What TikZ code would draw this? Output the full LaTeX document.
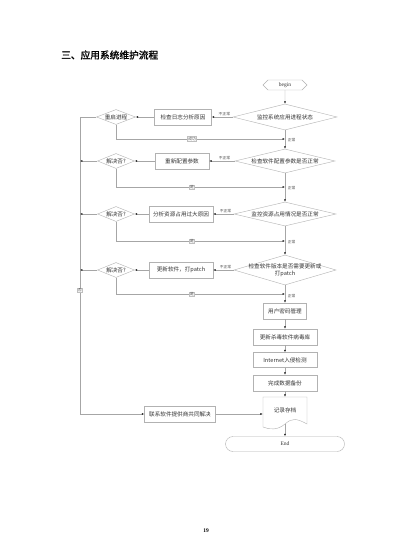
\documentclass[tikz,border=0pt]{standalone}
\usepackage{fontspec}
\setmainfont{Liberation Serif}
\newfontfamily\cjk{Noto Sans CJK SC}
\newfontfamily\cjkb[FakeBold=1.6]{Noto Sans CJK SC}
\usetikzlibrary{arrows.meta,shapes.geometric,shapes.symbols,shapes.misc}
\begin{document}
\begin{tikzpicture}[x=1pt,y=-1pt,
  line/.style={draw=gray!70, line width=0.45pt},
  arr/.style={line, -{Latex[length=2.4pt,width=2pt,color=black!85]}},
  txt/.style={font=\cjk\fontsize{5.6}{6.6}\selectfont, text=black!80},
  box/.style={txt, draw=gray!60, fill=white, inner sep=0.5pt, minimum height=16pt},
  dia/.style={diamond, draw=gray!60, fill=white, inner sep=0pt, aspect=4},
  lbl/.style={font=\cjk\fontsize{3.8}{4.2}\selectfont, text=black!70, inner sep=0.6pt},
  blbl/.style={lbl, draw=gray!50, fill=white}
]
\useasboundingbox (0,0) rectangle (413,540);
\fill[white] (0,0) rectangle (413,540);

% title and page number
\node[anchor=west, font=\cjkb\fontsize{9.7}{11}\selectfont, inner sep=0pt] (title) at (61,55) {三、应用系统维护流程};
\node[font=\bfseries\fontsize{5.5}{6}\selectfont, inner sep=0pt] (pgnum) at (206,531) {19};

% main column
\node[signal, signal to=west and east, draw=gray!60, fill=white, minimum width=44pt, minimum height=10pt, inner sep=0pt, font=\fontsize{5.5}{6}\selectfont, text=black!80] (begin) at (285,85) {begin};

\node[dia, minimum width=104pt, minimum height=26pt, label={[txt]center:监控系统应用进程状态}] (d1) at (285,117) {};
\node[dia, minimum width=100pt, minimum height=24pt, label={[txt]center:检查软件配置参数是否正常}] (d2) at (285,161) {};
\node[dia, minimum width=102pt, minimum height=24pt, label={[txt]center:监控资源占用情况是否正常}] (d3) at (285,214) {};
\node[dia, minimum width=102pt, minimum height=30pt, label={[txt, align=center]center:检查软件版本是否需要更新或\\打patch}] (d4) at (285,270) {};

\node[box, minimum width=57pt] (b1) at (183,117) {检查日志分析原因};
\node[box, minimum width=54pt] (b2) at (182,161) {重新配置参数};
\node[box, minimum width=64pt] (b3) at (181,214) {分析资源占用过大原因};
\node[box, minimum width=64pt] (b4) at (181,270) {更新软件，打patch};

\node[dia, minimum width=39pt, minimum height=15pt, label={[txt]center:重启进程}] (r1) at (116,117) {};
\node[dia, minimum width=37pt, minimum height=15pt, label={[txt]center:解决否?}] (r2) at (116,161) {};
\node[dia, minimum width=37pt, minimum height=15pt, label={[txt]center:解决否?}] (r3) at (116,214) {};
\node[dia, minimum width=37pt, minimum height=15pt, label={[txt]center:解决否?}] (r4) at (116,270) {};

\node[box, minimum width=43pt] (u1) at (285,311) {用户密码管理};
\node[box, minimum width=64pt] (u2) at (285,337) {更新杀毒软件病毒库};
\node[box, minimum width=64pt, minimum height=15pt] (u3) at (285,360) {Internet入侵检测};
\node[box, minimum width=64pt] (u4) at (285,383) {完成数据备份};

\node[txt, minimum width=44pt, minimum height=26pt, inner sep=0pt] (doc) at (285,410) {记录存档};
\draw[draw=gray!60, fill=white] (263,397) -- (307,397) -- (307,424)
   .. controls (296,418) and (292,418) .. (285,424)
   .. controls (278,430) and (270,430) .. (263,427) -- cycle;
\node[txt, inner sep=0pt] at (doc) {记录存档};
\coordinate (docb) at (285,424);

\node[rounded rectangle, draw=gray!60, fill=white, minimum width=119pt, minimum height=15pt, inner sep=0pt, font=\fontsize{5.5}{6}\selectfont, text=black!80] (endn) at (285,444) {End};

\node[box, minimum width=71pt] (contact) at (180,414) {联系软件提供商共同解决};

% junction coordinates
\coordinate (j1) at (285,139);
\coordinate (j2) at (285,187);
\coordinate (j3) at (285,241);
\coordinate (j4) at (285,294);
\coordinate (Ltop) at (80,117);
\coordinate (Lbot) at (80,414);

% connectors main column
\draw[arr] (begin) -- (d1);
\draw[arr] (d1) -- (d2);
\draw[arr] (d2) -- (d3);
\draw[arr] (d3) -- (d4);
\draw[arr] (d4) -- (u1);
\draw[arr] (u1) -- (u2);
\draw[arr] (u2) -- (u3);
\draw[arr] (u3) -- (u4);
\draw[arr] (u4) -- (doc.north);
\draw[arr] (docb) -- (endn);

\node[lbl, anchor=west] at (287,140) {正常};
\node[lbl, anchor=west] at (287,188) {正常};
\node[lbl, anchor=west] at (287,242) {正常};
\node[lbl, anchor=west] at (287,296) {正常};

% left branches
\draw[arr] (d1.west) -- node[lbl, above, pos=0.4]{不正常} (b1.east);
\draw[arr] (d2.west) -- node[lbl, above, pos=0.4]{不正常} (b2.east);
\draw[arr] (d3.west) -- node[lbl, above, pos=0.4]{不正常} (b3.east);
\draw[arr] (d4.west) -- node[lbl, above, pos=0.4]{不正常} (b4.east);

\draw[arr] (b1.west) -- (r1.east);
\draw[arr] (b2.west) -- (r2.east);
\draw[arr] (b3.west) -- (r3.east);
\draw[arr] (b4.west) -- (r4.east);

% return lines
\draw[arr] (r1.south) |- node[blbl, pos=0.725]{成功} (j1);
\draw[arr] (r2.south) |- node[blbl, pos=0.725]{是} (j2);
\draw[arr] (r3.south) |- node[blbl, pos=0.725]{是} (j3);
\draw[arr] (r4.south) |- node[blbl, pos=0.725]{是} (j4);

% failure line
\draw[arr] (r1.west) -- (Ltop) -- (Lbot) -- (contact.west);
\draw[arr] (r2.west) -- (r2.west -| Ltop);
\draw[arr] (r3.west) -- (r3.west -| Ltop);
\draw[arr] (r4.west) -- (r4.west -| Ltop);
\node[blbl] (no) at (80,290) {否};

\draw[arr] (contact.east) -- (contact.east -| doc.west);
\end{tikzpicture}
\end{document}
